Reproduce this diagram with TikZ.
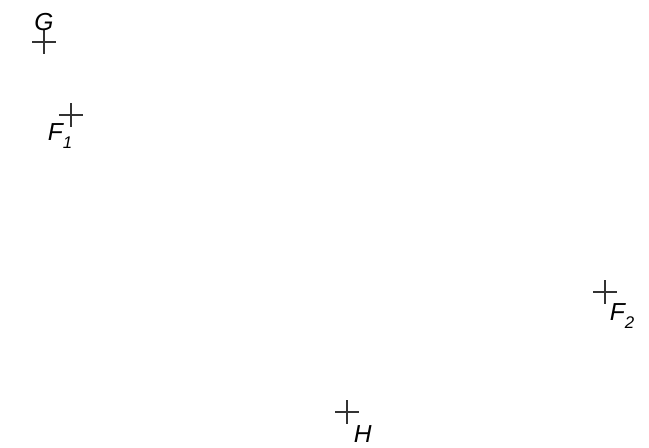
\documentclass[tikz,border=0pt]{standalone}
\usepackage{fontspec}
\setmainfont{Liberation Sans}
\usetikzlibrary{positioning,calc}
\definecolor{Ink}{HTML}{333333}
\newcommand{\lowsub}[1]{\raisebox{-.3em}{\fontsize{9.6}{10}\selectfont #1}}
\tikzset{
 crossline/.style={draw=Ink,line width=.8pt},
 lbl/.style={font=\fontsize{14}{16}\selectfont\itshape,inner sep=0pt,text=black}
}

\begin{document}
\begin{tikzpicture}[x=1cm,y=1cm]
\useasboundingbox (0,0) rectangle (12.98,8.96);
% Marked points.
\coordinate (G) at (0.88,8.12);
\coordinate (F1) at (1.42,6.66);
\coordinate (F2) at (12.10,3.12);
\coordinate (H) at (6.94,0.72);
\foreach \p in {G,F1,F2,H} {
 \draw[crossline] (\p) ++(-.24,0) -- ++(.48,0) (\p) ++(0,-.24) -- ++(0,.48);
}
% Labels.
\node[lbl,anchor=base] (lG) at ($(G)+(0,.22)$) {G};
\node[lbl,anchor=base west] (lF1) at ($(F1)+(-.47,-.52)$) {F\lowsub{1}};
\node[lbl,anchor=base west] (lF2) at ($(F2)+(.09,-.58)$) {F\lowsub{2}};
\node[lbl,anchor=base west] (lH) at ($(H)+(.13,-.62)$) {H};
\end{tikzpicture}
\end{document}
